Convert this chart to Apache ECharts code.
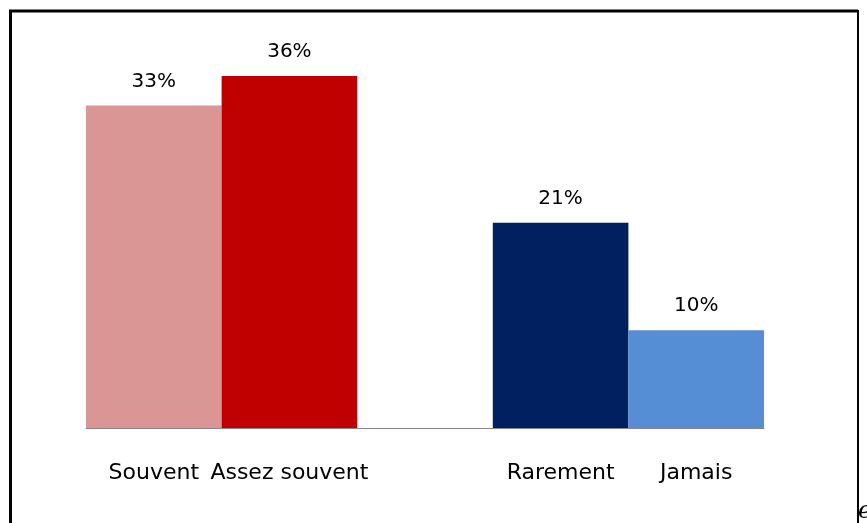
<!DOCTYPE html>
<html>
<head>
<meta charset="utf-8">
<script src="https://cdn.jsdelivr.net/npm/echarts@6/dist/echarts.min.js"></script>
<style>
  html, body { margin: 0; padding: 0; background: #fff; }
  #chart { width: 867px; height: 523px; }
</style>
</head>
<body>
<div id="chart"></div>
<script>
// categories (an empty slot keeps the gap between the two groups)
const categories = ['Souvent', 'Assez souvent', '', 'Rarement', 'Jamais']
const values = [33, 36, null, 21, 10]
const barColors = ['#D99694', '#C00000', '#ffffff', '#002060', '#558ED5']

const chart = echarts.init(document.getElementById('chart'))

const option = {
  animation: false,
  backgroundColor: '#ffffff',
  grid: { left: 86, right: 103, top: 37, bottom: 95 },
  xAxis: {
    type: 'category',
    data: categories,
    boundaryGap: true,
    axisLine: { lineStyle: { color: '#868686', width: 1 } },
    axisTick: { show: false },
    axisLabel: {
      color: '#000000',
      fontFamily: 'DejaVu Sans',
      fontSize: 22,
      margin: 34,
      interval: 0
    }
  },
  yAxis: {
    type: 'value',
    min: 0,
    max: 40,
    show: false,
    splitLine: { show: false }
  },
  series: [{
    type: 'bar',
    barWidth: '100%',
    data: values.map((v, i) => ({ value: v, itemStyle: { color: barColors[i] } })),
    label: {
      show: true,
      position: 'top',
      distance: 14,
      color: '#000000',
      fontFamily: 'DejaVu Sans',
      fontSize: 20,
      formatter: p => p.value == null ? '' : p.value + '%'
    }
  }],
  graphic: [
    {
      type: 'polyline',
      shape: { points: [[10.5, 523], [10.5, 11], [858, 11]] },
      style: { stroke: '#000000', lineWidth: 3, fill: null }
    },
    {
      type: 'line',
      shape: { x1: 858, y1: 10, x2: 858, y2: 523 },
      style: { stroke: '#000000', lineWidth: 2 }
    },
    {
      type: 'text',
      left: 858,
      top: 500,
      style: { text: 'e', fontFamily: 'DejaVu Serif', fontStyle: 'italic', fontSize: 24, fill: '#000000' }
    }
  ]
}

chart.setOption(option)
</script>
</body>
</html>
